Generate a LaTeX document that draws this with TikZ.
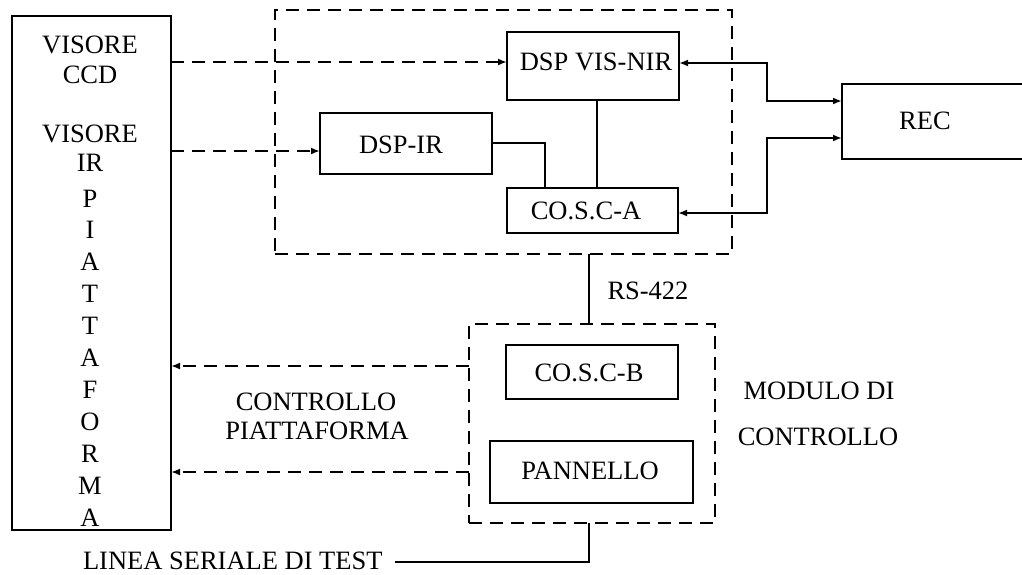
\documentclass[tikz,border=0pt]{standalone}
\usepackage{fontspec}
\setmainfont{Liberation Serif}
\usetikzlibrary{arrows.meta,calc}
\begin{document}
\begin{tikzpicture}[x=1pt,y=-1pt,
  font=\fontsize{26.5}{30}\selectfont,
  every node/.style={inner sep=0pt, outer sep=0pt},
  blk/.style={draw, line width=2.2pt, rectangle},
  grp/.style={draw, line width=2pt, dash pattern=on 13pt off 8pt, rectangle},
  wire/.style={line width=2pt},
  dwire/.style={line width=2pt, dash pattern=on 13pt off 8pt},
  tip/.style={-{Latex[length=9pt,width=7pt]}},
  txt/.style={anchor=base}]
\useasboundingbox (0,0) rectangle (1022,574);
\clip (0,0) rectangle (1022,574);

% boxes (centre, size)
\node[blk, minimum width=159pt, minimum height=514pt] (plat) at (91.5,273) {};
\node[grp, minimum width=457pt, minimum height=244pt] (top) at (503.5,132) {};
\node[blk, minimum width=172pt, minimum height=68pt] (vis) at (593,66) {};
\node[blk, minimum width=172pt, minimum height=61pt] (ir) at (406,143.5) {};
\node[blk, minimum width=171pt, minimum height=45pt] (csa) at (592.5,210.5) {};
\node[blk, minimum width=200pt, minimum height=75pt] (rec) at (942,121.5) {};
\node[grp, minimum width=246pt, minimum height=199pt] (mod) at (592,423.5) {};
\node[blk, minimum width=172pt, minimum height=54pt] (csb) at (592,372) {};
\node[blk, minimum width=203pt, minimum height=62pt] (pan) at (591.5,472) {};

% texts
\node[txt] (t1) at (90,53) {VISORE};
\node[txt] (t2) at (90,83) {CCD};
\node[txt] (t3) at (90,142) {VISORE};
\node[txt] (t4) at (90,171) {IR};
\foreach \c [count=\i from 0] in {P,I,A,T,T,A,F,O,R,M,A}
  \node[txt] (l\i) at (90,{207+31.9*\i}) {\c};
\node[txt] (tvis) at (596,70) {DSP VIS-NIR};
\node[txt] (tir) at (401,153) {DSP-IR};
\node[txt] (tcsa) at (586,219) {CO.S.C-A};
\node[txt] (trec) at (925,129) {REC};
\node[txt] (trs) at (648,299) {RS-422};
\node[txt] (tcsb) at (589,381) {CO.S.C-B};
\node[txt] (tpan) at (590,479) {PANNELLO};
\node[txt] (tmod1) at (819,399) {MODULO DI};
\node[txt] (tmod2) at (818,445) {CONTROLLO};
\node[txt] (tcp1) at (316,410) {CONTROLLO};
\node[txt] (tcp2) at (317,439) {PIATTAFORMA};
\node[anchor=base west] (serial) at (83,569) {LINEA SERIALE DI TEST};

% junction points
\coordinate (j1) at (767,101);
\coordinate (j2) at (767,138);
\coordinate (rs) at (589,0);
\coordinate (m1) at (469,366);
\coordinate (m2) at (469,472);
\coordinate (s1) at (395,562);

% video inputs
\draw[dwire, tip] (plat.east |- 0,62) -- ([yshift=4pt]vis.west);
\draw[dwire, tip] (plat.east |- 0,151) -- ([yshift=-7.5pt]ir.west);

% internal links
\draw[wire] (ir.east |- 0,143) -| (csa.north -| 545,0);
\draw[wire] (vis.south -| 597,0) -- (csa.north -| 597,0);

% links to recorder
\draw[wire, {Latex[length=9pt,width=7pt]}-{Latex[length=9pt,width=7pt]}]
  ([yshift=3pt]vis.east) -| (j1) -- (rec.west |- j1);
\draw[wire, {Latex[length=9pt,width=7pt]}-{Latex[length=9pt,width=7pt]}]
  ([yshift=-2.5pt]csa.east) -| (j2) -- (rec.west |- j2);

% RS-422 bus
\draw[wire] (top.south -| rs) -- (mod.north -| rs);

% platform control
\draw[dwire, tip] (m1) -- (plat.east |- m1);
\draw[dwire, tip] (m2) -- (plat.east |- m2);

% serial test line
\draw[wire] (s1) -| (mod.south -| rs);
\end{tikzpicture}
\end{document}
